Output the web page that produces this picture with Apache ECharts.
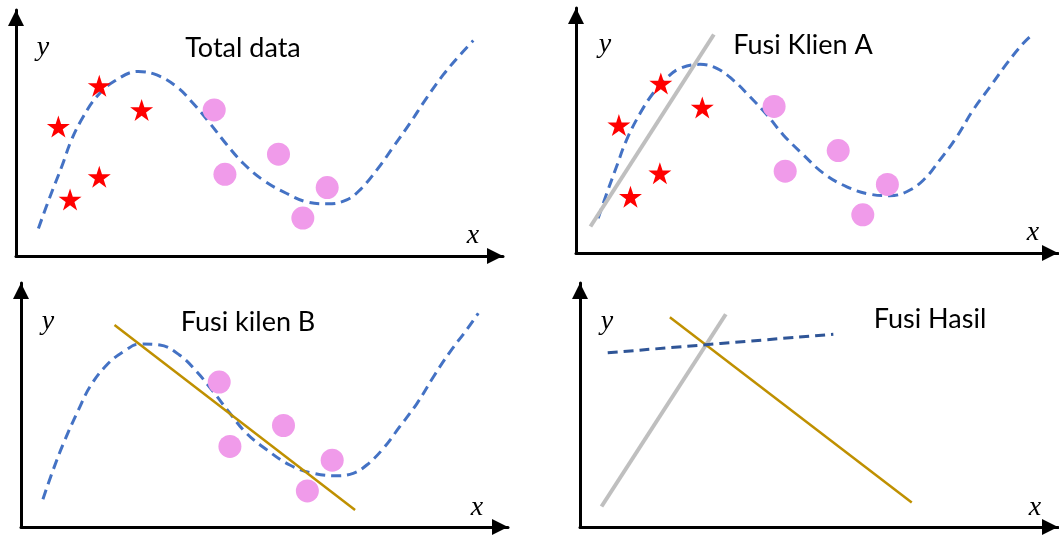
<!DOCTYPE html>
<html>
<head>
<meta charset="utf-8">
<title>Fusi</title>
<script src="https://cdn.jsdelivr.net/npm/echarts@6/dist/echarts.min.js"></script>
<style>
  html, body { margin: 0; padding: 0; background: #ffffff; }
  #chart { width: 1059px; height: 536px; }
</style>
</head>
<body>
<div id="chart"></div>
<script>
// Panel titles
const panelTitles = ['Total data', 'Fusi Klien A', 'Fusi kilen B', 'Fusi Hasil'];

// Panel 1: all data (x 0..100, y 0..50)
const curveTotal = [
  [4.6, 5.6], [7.0, 12.1], [9.4, 18.2], [11.4, 23.6], [13.8, 28.3], [16.6, 32.4],
  [20.0, 35.4], [25.1, 37.5], [28.9, 36.8], [33.0, 34.4], [36.4, 31.0], [39.8, 27.0],
  [43.3, 22.6], [46.7, 18.8], [50.8, 15.4], [55.6, 12.7], [59.7, 11.0], [64.1, 10.6],
  [67.9, 11.4], [70.6, 13.4], [74.1, 17.5], [77.5, 22.2], [80.9, 27.0], [84.3, 32.1],
  [87.7, 36.8], [91.2, 40.9], [93.9, 43.8]
];
const starsTotal = [[8.7, 26.3], [17.1, 34.6], [25.8, 29.7], [17.1, 16.1], [11.1, 11.5]];
const circlesTotal = [[40.7, 29.7], [53.9, 20.7], [42.9, 16.6], [63.9, 13.9], [58.9, 7.7]];

// Panel 2: client A
const curveA = [
  [4.6, 7.1], [6.4, 12.2], [8.4, 17.6], [10.5, 23.1], [13.3, 28.5], [16.0, 32.6],
  [18.8, 35.7], [21.6, 37.7], [25.7, 38.5], [29.2, 37.7], [32.6, 35.3], [36.1, 31.9],
  [39.6, 28.2], [43.0, 24.1], [47.2, 20.0], [51.3, 16.3], [56.2, 13.5], [61.0, 12.0],
  [65.1, 11.7], [68.6, 12.5], [72.1, 14.9], [75.5, 19.0], [79.0, 23.7], [82.4, 29.2],
  [85.9, 33.9], [89.4, 38.7], [92.8, 42.8], [94.9, 44.8]
];
const starsA = [[8.9, 26.1], [17.6, 34.6], [26.2, 29.7], [17.4, 16.3], [11.3, 11.5]];
const circlesA = [[41.1, 29.9], [54.4, 20.9], [43.4, 16.7], [64.6, 14.0], [59.5, 7.8]];
const fitA = [[3.0, 5.4], [28.6, 44.6]];

// Panel 3: client B
const curveB = [
  [4.5, 5.7], [6.6, 11.7], [9.0, 17.8], [11.8, 24.0], [14.2, 28.8], [17.6, 33.2],
  [21.0, 35.9], [24.4, 37.5], [28.5, 37.3], [32.6, 35.2], [36.1, 31.8], [39.5, 27.7],
  [42.9, 23.3], [46.3, 19.2], [50.5, 15.8], [55.2, 12.7], [60.0, 11.0], [64.8, 10.5],
  [68.2, 11.0], [71.0, 12.7], [74.4, 16.1], [77.8, 20.6], [81.3, 25.3], [84.7, 30.8],
  [88.1, 35.9], [91.5, 40.4], [93.9, 43.8]
];
const circlesB = [[40.7, 29.7], [53.9, 20.8], [42.9, 16.5], [63.9, 13.7], [58.8, 7.4]];
const fitB = [[19.2, 41.4], [68.6, 3.5]];

// Panel 4: fused result
const resultA = [[4.5, 4.2], [30.5, 43.6]];
const resultB = [[18.8, 43.0], [69.4, 5.0]];
const resultFused = [[5.8, 35.7], [53.0, 39.5]];

// Axis extents shared by all panels
const xRange = [0, 100];
const yRange = [0, 50];

const STAR = 'path://M50,0 L61.2,34.5 L97.6,34.5 L68.2,55.9 L79.4,90.5 L50,69.1 L20.6,90.5 L31.8,55.9 L2.4,34.5 L38.8,34.5 Z';
const COLORS = {
  curve: '#4472C4',
  fused: '#2F5597',
  star: '#FF0000',
  dot: '#F09BEA',
  gray: '#BFBFBF',
  gold: '#BF9000'
};

// Panel layout: grid box from origin to arrow tip
const panels = [
  { left: 16, top: 10, width: 487, height: 246 },
  { left: 576, top: 8, width: 482, height: 245 },
  { left: 21, top: 283, width: 487, height: 244 },
  { left: 580, top: 283, width: 478, height: 244 }
];

const axisLine = {
  show: true,
  onZero: false,
  symbol: ['none', 'triangle'],
  symbolSize: [16, 16],
  symbolOffset: [0, -8],
  lineStyle: { color: '#000000', width: 3 }
};
const hiddenParts = {
  axisTick: { show: false },
  axisLabel: { show: false },
  splitLine: { show: false }
};

const grid = panels.map(p => ({ left: p.left, top: p.top, width: p.width, height: p.height }));
const xAxis = panels.map((p, i) => Object.assign({
  type: 'value', gridIndex: i, min: xRange[0], max: xRange[1], axisLine
}, hiddenParts));
const yAxis = panels.map((p, i) => Object.assign({
  type: 'value', gridIndex: i, min: yRange[0], max: yRange[1], axisLine
}, hiddenParts));

function dashed(data, i, color) {
  return {
    type: 'line', xAxisIndex: i, yAxisIndex: i, data, smooth: 0.4,
    symbol: 'none', silent: true, z: 2,
    lineStyle: { color, width: 3, type: [10, 6] }
  };
}
function solid(data, i, color, width, z) {
  return {
    type: 'line', xAxisIndex: i, yAxisIndex: i, data,
    symbol: 'none', silent: true, z,
    lineStyle: { color, width }
  };
}
function stars(data, i) {
  return {
    type: 'scatter', xAxisIndex: i, yAxisIndex: i, data,
    symbol: STAR, symbolSize: [23, 22], silent: true, z: 4,
    itemStyle: { color: COLORS.star, opacity: 1 }
  };
}
function dots(data, i) {
  return {
    type: 'scatter', xAxisIndex: i, yAxisIndex: i, data,
    symbol: 'circle', symbolSize: 23, silent: true, z: 4,
    itemStyle: { color: COLORS.dot, opacity: 1 }
  };
}

const series = [
  dashed(curveTotal, 0, COLORS.curve),
  stars(starsTotal, 0),
  dots(circlesTotal, 0),

  dashed(curveA, 1, COLORS.curve),
  solid(fitA, 1, COLORS.gray, 4, 3),
  stars(starsA, 1),
  dots(circlesA, 1),

  dashed(curveB, 2, COLORS.curve),
  dots(circlesB, 2),
  solid(fitB, 2, COLORS.gold, 2.5, 5),

  solid(resultA, 3, COLORS.gray, 4, 3),
  solid(resultB, 3, COLORS.gold, 2.5, 4),
  Object.assign(dashed(resultFused, 3, COLORS.fused), { z: 5 })
];

// Titles and axis letters
const titlePos = [[243, 48], [803, 45], [248, 322], [930, 319]];
const yLabelPos = [[43, 48], [605, 45], [48, 322], [607, 322]];
const xLabelPos = [[473, 236], [1033, 233], [477, 508], [1035, 508]];

const graphic = [];
panelTitles.forEach((t, i) => {
  graphic.push({
    type: 'text', x: titlePos[i][0], y: titlePos[i][1], silent: true,
    style: { text: t, fill: '#000000', font: '27px Lato', align: 'center', verticalAlign: 'middle' }
  });
  graphic.push({
    type: 'text', x: yLabelPos[i][0], y: yLabelPos[i][1], silent: true,
    style: { text: 'y', fill: '#000000', font: 'italic 28px "Liberation Serif"', align: 'center', verticalAlign: 'middle' }
  });
  graphic.push({
    type: 'text', x: xLabelPos[i][0], y: xLabelPos[i][1], silent: true,
    style: { text: 'x', fill: '#000000', font: 'italic 28px "Liberation Serif"', align: 'center', verticalAlign: 'middle' }
  });
});

const chart = echarts.init(document.getElementById('chart'), null, { renderer: 'canvas' });
chart.setOption({
  animation: false,
  backgroundColor: '#ffffff',
  grid, xAxis, yAxis, series, graphic
});
</script>
</body>
</html>
